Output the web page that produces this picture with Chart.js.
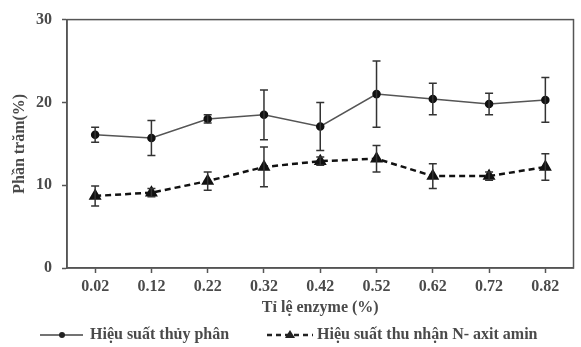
<!DOCTYPE html>
<html>
<head>
<meta charset="utf-8">
<script src="https://cdn.jsdelivr.net/npm/chart.js@4"></script>
<style>
  html, body { margin: 0; padding: 0; background: #fff; }
  #wrap { width: 581px; height: 347px; }
</style>
</head>
<body>
<div id="wrap"><canvas id="chart" width="581" height="347"></canvas></div>
<script>
// ti le enzyme (%)
var labels = ['0.02', '0.12', '0.22', '0.32', '0.42', '0.52', '0.62', '0.72', '0.82'];
// hieu suat thuy phan
var thuyPhan = [16.1, 15.7, 18.0, 18.5, 17.1, 21.0, 20.4, 19.8, 20.3];
var thuyPhanErr = [0.9, 2.1, 0.5, 3.0, 2.9, 4.0, 1.9, 1.3, 2.7];
// hieu suat thu nhan N- axit amin
var axitAmin = [8.7, 9.1, 10.5, 12.2, 12.9, 13.2, 11.1, 11.1, 12.2];
var axitAminErr = [1.2, 0.5, 1.1, 2.4, 0.5, 1.6, 1.5, 0.5, 1.6];
var yTicks = [0, 10, 20, 30];

var axisColor = '#555';
var textColor = '#4a4a4a';
var font = { family: 'Liberation Serif', size: 16, weight: 'bold' };

var errorBars = {
  id: 'errorBars',
  afterDatasetsDraw: function (chart) {
    var ctx = chart.ctx;
    var y = chart.scales.y;
    ctx.save();
    ctx.strokeStyle = '#333';
    ctx.lineWidth = 1.5;
    chart.data.datasets.forEach(function (ds, di) {
      var meta = chart.getDatasetMeta(di);
      ds.errors.forEach(function (e, i) {
        var x = meta.data[i].x;
        var top = y.getPixelForValue(ds.data[i] + e);
        var bot = y.getPixelForValue(ds.data[i] - e);
        ctx.beginPath();
        ctx.moveTo(x, top); ctx.lineTo(x, bot);
        ctx.moveTo(x - 4, top); ctx.lineTo(x + 4, top);
        ctx.moveTo(x - 4, bot); ctx.lineTo(x + 4, bot);
        ctx.stroke();
      });
    });
    ctx.restore();
  }
};

var frame = {
  id: 'frame',
  afterDraw: function (chart) {
    var a = chart.chartArea;
    var ctx = chart.ctx;
    ctx.save();
    ctx.strokeStyle = axisColor;
    ctx.lineWidth = 1.5;
    ctx.strokeRect(a.left, a.top, a.right - a.left, a.bottom - a.top);
    ctx.restore();
  }
};

// legend with line + marker, drawn under the axis title
var lineLegend = {
  id: 'lineLegend',
  afterDraw: function (chart) {
    var ctx = chart.ctx;
    var ly = 335;
    ctx.save();
    ctx.font = 'bold 16px "Liberation Serif"';
    ctx.textBaseline = 'middle';

    ctx.strokeStyle = '#444';
    ctx.lineWidth = 1.5;
    ctx.beginPath(); ctx.moveTo(40, ly); ctx.lineTo(83, ly); ctx.stroke();
    ctx.fillStyle = '#222';
    ctx.beginPath(); ctx.arc(62, ly, 3, 0, Math.PI * 2); ctx.fill();
    ctx.fillStyle = textColor;
    ctx.fillText(chart.data.datasets[0].label, 90, ly);

    ctx.strokeStyle = '#222';
    ctx.lineWidth = 2.5;
    ctx.setLineDash([5, 4]);
    ctx.beginPath(); ctx.moveTo(267, ly); ctx.lineTo(313, ly); ctx.stroke();
    ctx.setLineDash([]);
    ctx.fillStyle = '#222';
    ctx.beginPath();
    ctx.moveTo(290, ly - 5); ctx.lineTo(295, ly + 3); ctx.lineTo(285, ly + 3);
    ctx.closePath(); ctx.fill();
    ctx.fillStyle = textColor;
    ctx.fillText(chart.data.datasets[1].label, 317, ly);
    ctx.restore();
  }
};

var ctx = document.getElementById('chart').getContext('2d');
var chart = new Chart(ctx, {
  type: 'line',
  data: {
    labels: labels,
    datasets: [{
      label: 'Hiệu suất thủy phân',
      data: thuyPhan,
      errors: thuyPhanErr,
      borderColor: '#555',
      borderWidth: 1.5,
      pointStyle: 'circle',
      pointRadius: 3.5,
      pointBackgroundColor: '#111',
      pointBorderColor: '#111',
      tension: 0
    }, {
      label: 'Hiệu suất thu nhận N- axit amin',
      data: axitAmin,
      errors: axitAminErr,
      borderColor: '#111',
      borderWidth: 2.5,
      borderDash: [6, 4],
      pointStyle: 'triangle',
      pointRadius: 5,
      pointBackgroundColor: '#111',
      pointBorderColor: '#111',
      tension: 0
    }]
  },
  options: {
    responsive: false,
    animation: false,
    layout: { padding: { left: 0, right: 4, top: 17, bottom: 30 } },
    plugins: {
      legend: { display: false },
      tooltip: { enabled: false }
    },
    scales: {
      x: {
        offset: true,
        grid: { offset: false, drawOnChartArea: false, tickLength: 5, color: axisColor, tickWidth: 1.5 },
        border: { color: axisColor, width: 1.5 },
        ticks: { color: textColor, font: font, padding: 4, maxRotation: 0 },
        title: { display: true, text: 'Tỉ lệ enzyme (%)', color: textColor, font: font, padding: { top: 1, bottom: 0 } },
        afterFit: function (s) { s.height = 49; }
      },
      y: {
        min: 0,
        max: 30,
        afterBuildTicks: function (s) { s.ticks = yTicks.map(function (v) { return { value: v }; }); },
        grid: { drawOnChartArea: false, tickLength: 5, color: axisColor, tickWidth: 1.5 },
        border: { color: axisColor, width: 1.5 },
        ticks: { color: textColor, font: font, padding: 10 },
        title: { display: true, text: 'Phần trăm(%)', color: textColor, font: font, padding: { top: 10, bottom: 0 } },
        afterFit: function (s) { s.width = 67; }
      }
    }
  },
  plugins: [errorBars, frame, lineLegend]
});
</script>
</body>
</html>
